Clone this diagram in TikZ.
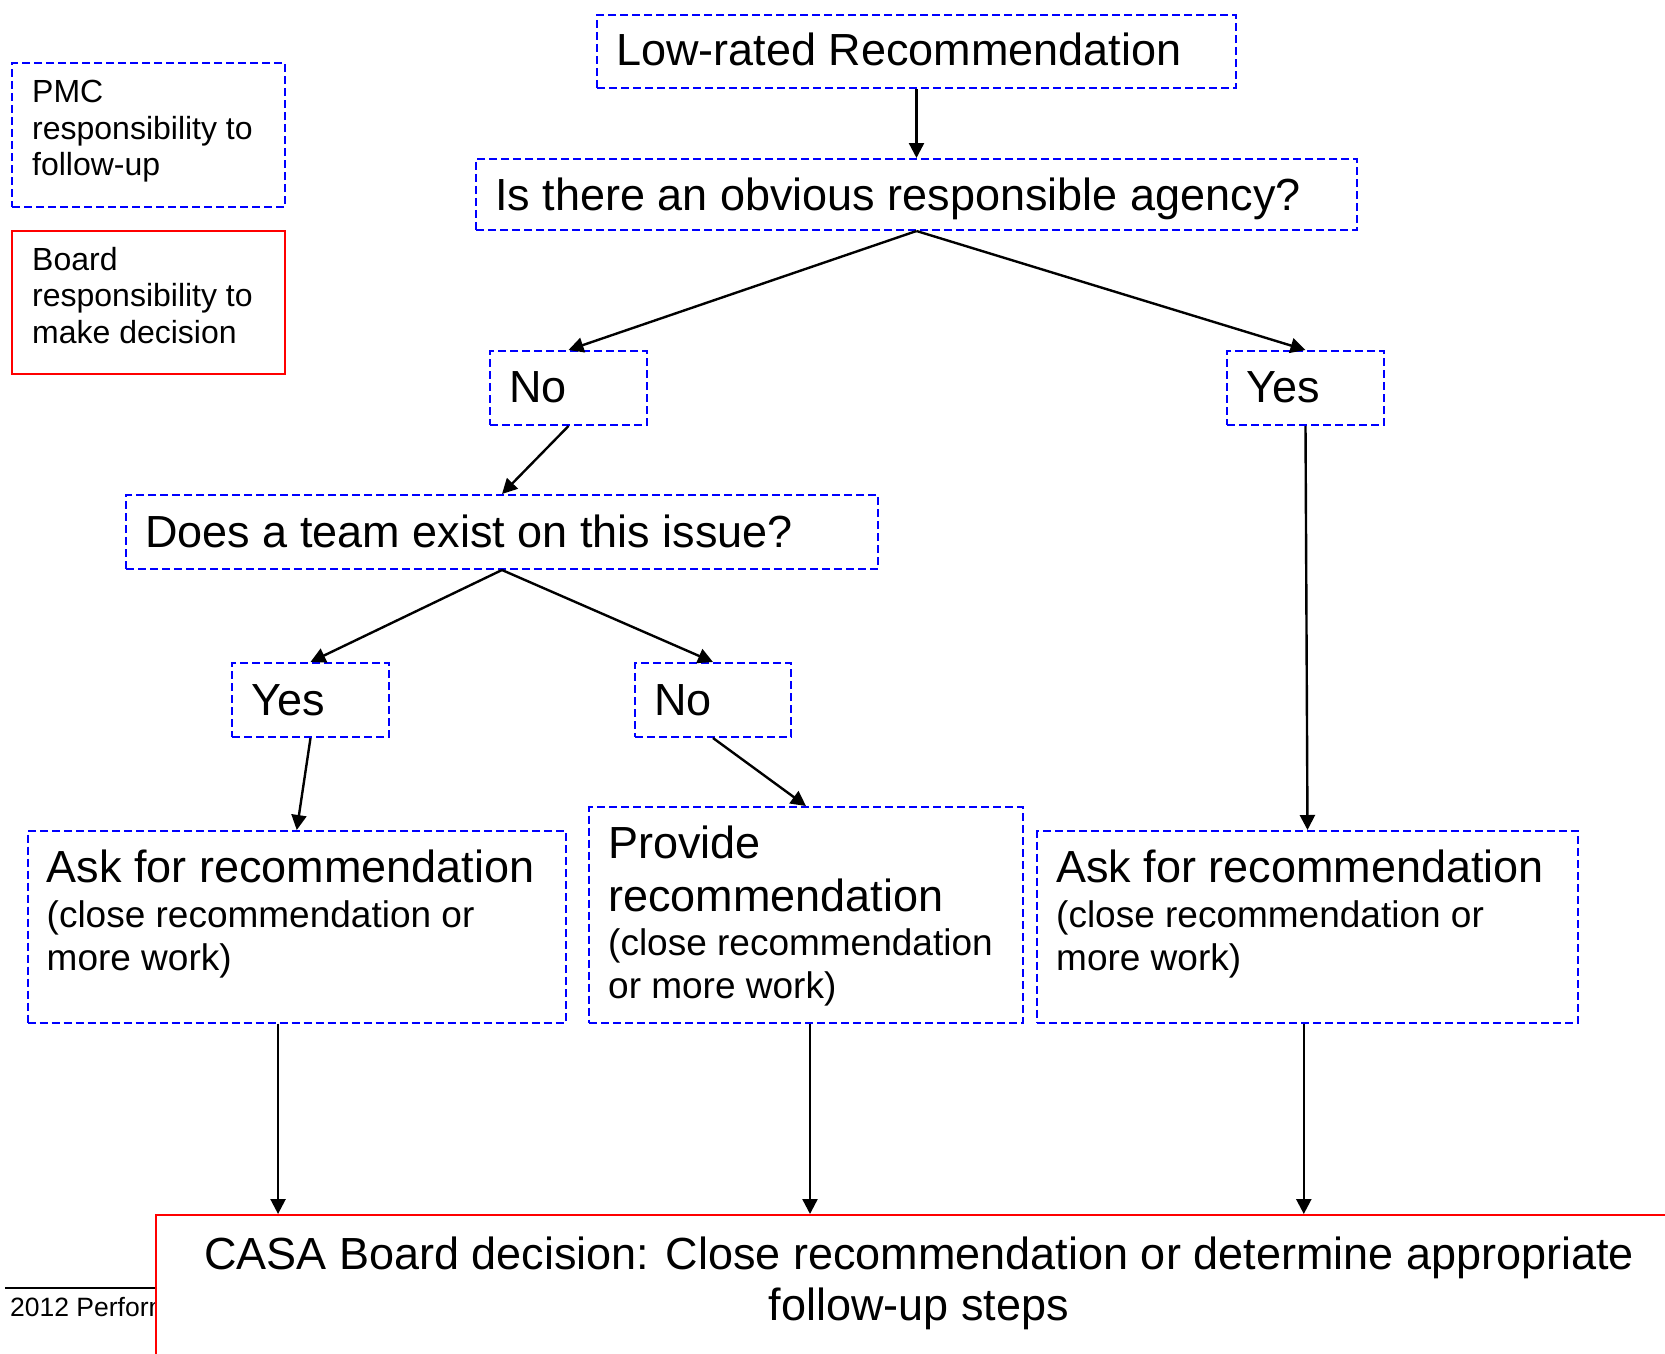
\documentclass[tikz,border=0pt]{standalone}
\usepackage{fontspec}
\setmainfont{Liberation Sans}
\usetikzlibrary{arrows.meta,calc}
\definecolor{pblue}{RGB}{0,0,255}
\definecolor{pred}{RGB}{255,0,0}
\begin{document}
\begin{tikzpicture}[x=1pt,y=-1pt,
  pmcbox/.style={draw=pblue, line width=2pt, dash pattern=on 8pt off 4pt, inner sep=0pt, anchor=north west},
  boardbox/.style={draw=pred, line width=2pt, inner sep=0pt, anchor=north west},
  lbl/.style={anchor=base west, inner sep=0pt},
  bigtxt/.style={font=\fontsize{45}{54}\selectfont},
  midtxt/.style={font=\fontsize{37}{44}\selectfont},
  smalltxt/.style={font=\fontsize{32}{37}\selectfont},
  arr/.style={line width=2.4pt, -{Triangle[length=15pt,width=15pt]}}
]
\clip (0,0) rectangle (1665,1354);
\fill[white] (0,0) rectangle (1665,1354);

% legend
\node[pmcbox, minimum width=273pt, minimum height=144pt] (legpmc) at (11,62) {};
\node[lbl,smalltxt] (legpmc1) at ($(legpmc.north west)+(21,40)$) {PMC};
\node[lbl,smalltxt] (legpmc2) at ($(legpmc.north west)+(21,77)$) {responsibility to};
\node[lbl,smalltxt] (legpmc3) at ($(legpmc.north west)+(21,113)$) {follow-up};
\node[boardbox, minimum width=273pt, minimum height=143pt] (legbrd) at (11,230) {};
\node[lbl,smalltxt] (legbrd1) at ($(legbrd.north west)+(21,40)$) {Board};
\node[lbl,smalltxt] (legbrd2) at ($(legbrd.north west)+(21,76.7)$) {responsibility to};
\node[lbl,smalltxt] (legbrd3) at ($(legbrd.north west)+(21,113)$) {make decision};

% boxes
\node[pmcbox, minimum width=639pt, minimum height=73pt] (low) at (596,14) {};
\node[lbl,bigtxt] (lowt) at ($(low.north west)+(20,52)$) {Low-rated Recommendation};

\node[pmcbox, minimum width=881pt, minimum height=71pt] (isq) at (475,158) {};
\node[lbl,bigtxt] (isqt) at ($(isq.north west)+(20,52)$) {Is there an obvious responsible agency?};

\node[pmcbox, minimum width=157pt, minimum height=74pt] (noT) at (489,350) {};
\node[lbl,bigtxt] (noTt) at ($(noT.north west)+(20,52)$) {No};

\node[pmcbox, minimum width=157pt, minimum height=74pt] (yesT) at (1226,350) {};
\node[lbl,bigtxt] (yesTt) at ($(yesT.north west)+(20,52)$) {Yes};

\node[pmcbox, minimum width=752pt, minimum height=74pt] (does) at (125,494) {};
\node[lbl,bigtxt] (doest) at ($(does.north west)+(20,53)$) {Does a team exist on this issue?};

\node[pmcbox, minimum width=157pt, minimum height=74pt] (yesM) at (231,662) {};
\node[lbl,bigtxt] (yesMt) at ($(yesM.north west)+(20,53)$) {Yes};

\node[pmcbox, minimum width=156pt, minimum height=74pt] (noM) at (634,662) {};
\node[lbl,bigtxt] (noMt) at ($(noM.north west)+(20,53)$) {No};

\node[pmcbox, minimum width=538.5pt, minimum height=191.5pt] (askL) at (26.5,830) {};
\node[lbl,bigtxt] (askL1) at ($(askL.north west)+(20,52)$) {Ask for recommendation};
\node[lbl,midtxt] (askL2) at ($(askL.north west)+(20,97)$) {(close recommendation or};
\node[lbl,midtxt] (askL3) at ($(askL.north west)+(20,140)$) {more work)};

\node[pmcbox, minimum width=434pt, minimum height=215.5pt] (prov) at (588,806) {};
\node[lbl,bigtxt] (prov1) at ($(prov.north west)+(20,52)$) {Provide};
\node[lbl,bigtxt] (prov2) at ($(prov.north west)+(20,105)$) {recommendation};
\node[lbl,midtxt] (prov3) at ($(prov.north west)+(20,149)$) {(close recommendation};
\node[lbl,midtxt] (prov4) at ($(prov.north west)+(20,192.5)$) {or more work)};

\node[pmcbox, minimum width=541pt, minimum height=191.5pt] (askR) at (1036,830) {};
\node[lbl,bigtxt] (askR1) at ($(askR.north west)+(20,52)$) {Ask for recommendation};
\node[lbl,midtxt] (askR2) at ($(askR.north west)+(20,97)$) {(close recommendation or};
\node[lbl,midtxt] (askR3) at ($(askR.north west)+(20,140)$) {more work)};

% footer
\coordinate (fl) at (5,1287.5);
\begin{scope}
\clip (0,1200) rectangle (155,1354);
\node[lbl,font=\fontsize{26.5}{30}\selectfont] (foot) at (10,1316.5) {2012 Performance};
\end{scope}

\node[boardbox, fill=white, minimum width=1528pt, minimum height=200pt] (casa) at (155,1214) {};
\draw[line width=2pt] (fl) -- (fl -| casa.west);
\node[anchor=base, inner sep=0pt, bigtxt] (casa1) at (919,1269) {CASA Board decision: Close recommendation or determine appropriate};
\node[anchor=base, inner sep=0pt, bigtxt] (casa2) at (919,1320) {follow-up steps};

% arrows
\draw[arr] (low.south) -- (isq.north);
\draw[arr] (isq.south) -- (noT.north);
\draw[arr] (isq.south) -- (yesT.north);
\draw[arr] (noT.south) -- (does.north);
\draw[arr] (yesT.south) -- (askR.north);
\draw[arr] (does.south) -- (yesM.north);
\draw[arr] (does.south) -- (noM.north);
\draw[arr] (yesM.south) -- (askL.north);
\draw[arr] (noM.south) -- (prov.north);
\draw[arr] ([xshift=-18.7pt]askL.south) -- ([xshift=-18.7pt]askL.south |- casa.north);
\draw[arr] ([xshift=4pt]prov.south) -- ([xshift=4pt]prov.south |- casa.north);
\draw[arr] ([xshift=-3.7pt]askR.south) -- ([xshift=-3.7pt]askR.south |- casa.north);
\end{tikzpicture}
\end{document}
